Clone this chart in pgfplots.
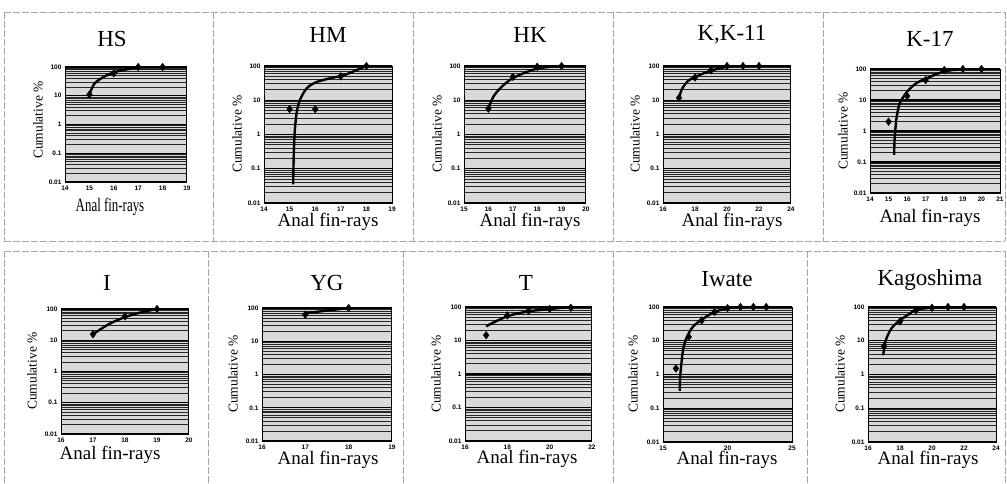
\documentclass[border=0pt]{standalone}
\usepackage{pgfplots}
\pgfplotsset{compat=1.18}
\usepackage{fontspec}
\setmainfont{Liberation Serif}
\setsansfont{Liberation Sans}

\newcommand\tickfont{\sffamily\bfseries\fontsize{6.5}{6.5}\selectfont}
\newcommand\ttl[3]{\node[font=\fontsize{23}{26}\selectfont] at (#1pt,-#2pt) {#3};}
\newcommand\xlab[2]{\node[font=\fontsize{19}{22}\selectfont] at (#1pt,-#2pt) {Anal fin-rays};}
\newcommand\ylab[2]{\node[rotate=90,font=\fontsize{13.5}{15}\selectfont] at (#1pt,-#2pt) {Cumulative \%};}

\tikzset{
  border/.style={gray!70, line width=0.8pt, dash pattern=on 7pt off 2pt},
  curveline/.style={black, line width=2.4pt, smooth},
  datapts/.style={black, mark=diamond*, mark size=3.8pt},
}
\pgfkeys{/pgf/number format/assume math mode=true}
\pgfplotsset{
  scale only axis,
  ytick={0.01,0.1,1,10,100}, yticklabels={0.01,0.1,1,10,100},
  minor ytick={0.02,0.03,0.04,0.05,0.06,0.07,0.08,0.09,
               0.2,0.3,0.4,0.5,0.6,0.7,0.8,0.9,
               2,3,4,5,6,7,8,9,20,30,40,50,60,70,80,90},
  ymajorgrids, yminorgrids,
  major grid style={black, line width=1.4pt},
  minor grid style={black!85, line width=0.9pt},
  axis background/.style={fill=gray!30},
  axis line style={black, line width=1pt},
  tick style={draw=none},
  tick label style={font=\tickfont},
  clip mode=individual,
}

\begin{document}
\begin{tikzpicture}
\useasboundingbox (0pt,0pt) rectangle (1007pt,-483pt);

% panel frames
\draw[border] (4pt,-12pt) -- (1005pt,-12pt);
\draw[border] (4pt,-241pt) -- (1005pt,-241pt);
\draw[border] (4pt,-251pt) -- (1005pt,-251pt);
\foreach \x in {4,213,413,613,823,1005} \draw[border] (\x pt,-12pt) -- (\x pt,-241pt);
\foreach \x in {4,208,403,613,807,1005} \draw[border] (\x pt,-251pt) -- (\x pt,-483pt);

% ---- row 1 ----
\begin{axis}[ymode=log, ymin=0.01, ymax=100, anchor=north west, at={(65pt,-67pt)}, width=122pt, height=115pt,
  xmin=14, xmax=19, xtick={14,15,16,17,18,19}]
\addplot[curveline] coordinates {(15,11) (15.2,26) (15.58,45) (16.05,67) (16.53,83) (17.1,100)};
\addplot[datapts, only marks] coordinates {(15,11) (16,60) (17,100) (18,100)};
\end{axis}
\ttl{112}{39}{HS}
\node at (110pt,-207pt) {\scalebox{0.68}[1]{\fontsize{19}{22}\selectfont Anal fin-rays}};
\ylab{38}{120}

\begin{axis}[ymode=log, ymin=0.01, ymax=100, anchor=north west, at={(264pt,-66pt)}, width=128pt, height=137pt,
  xmin=14, xmax=19, xtick={14,15,16,17,18,19}]
\addplot[curveline] coordinates {(15.14,0.035) (15.15,0.1) (15.17,0.4) (15.21,1.5) (15.28,4.5) (15.40,10) (15.66,22) (16.05,34) (16.7,46) (17.1,53) (17.6,75) (18,100)};
\addplot[datapts, only marks] coordinates {(15,5.5) (16,5.5) (17,50) (18,100)};
\end{axis}
\ttl{328}{35}{HM}
\xlab{328}{222}
\ylab{237}{134}

\begin{axis}[ymode=log, ymin=0.01, ymax=100, anchor=north west, at={(464pt,-66pt)}, width=122pt, height=137pt,
  xmin=15, xmax=20, xtick={15,16,17,18,19,20}]
\addplot[curveline] coordinates {(16,5.7) (16.2,12.6) (16.5,23) (16.9,40) (17.4,60) (18,84) (18.5,94) (19,100)};
\addplot[datapts, only marks] coordinates {(16,5.7) (17,48) (18,95) (19,100)};
\end{axis}
\ttl{530}{35}{HK}
\xlab{530}{222}
\ylab{437}{134}

\begin{axis}[ymode=log, ymin=0.01, ymax=100, anchor=north west, at={(663pt,-66pt)}, width=128pt, height=137pt,
  xmin=16, xmax=24, xtick={16,18,20,22,24}]
\addplot[curveline] coordinates {(17,11.7) (17.2,22) (17.6,38) (18.1,50) (18.95,72) (20,95) (21,100) (22,100)};
\addplot[datapts, only marks] coordinates {(17,11.7) (18,46) (19,75) (20,100) (21,100) (22,100)};
\end{axis}
\ttl{732}{35}{K,K-11}
\xlab{732}{222}
\ylab{635}{134}

\begin{axis}[ymode=log, ymin=0.01, ymax=100, anchor=north west, at={(870pt,-69pt)}, width=130pt, height=124pt,
  xmin=14, xmax=21, xtick={14,15,16,17,18,19,20,21}]
\addplot[curveline] coordinates {(15.3,0.17) (15.32,0.5) (15.37,1.2) (15.44,2.9) (15.6,7.8) (16,18.6) (16.5,35) (17.05,50) (17.95,82) (19,100) (20,100)};
\addplot[datapts, only marks] coordinates {(15,2) (16,13.4) (17,44) (18,93) (19,100) (20,100)};
\end{axis}
\ttl{930}{39}{K-17}
\xlab{930}{218}
\ylab{843}{131}

% ---- row 2 ----
\begin{axis}[ymode=log, ymin=0.01, ymax=100, anchor=north west, at={(61pt,-309pt)}, width=128pt, height=125pt,
  xmin=16, xmax=20, xtick={16,17,18,19,20}]
\addplot[curveline] coordinates {(17,15.6) (17.5,33) (18,55) (18.5,78) (19,100)};
\addplot[datapts, only marks] coordinates {(17,15.6) (18,58) (19,100)};
\end{axis}
\ttl{107}{283}{I}
\xlab{110}{455}
\ylab{32}{371}

\begin{axis}[ymode=log, ymin=0.01, ymax=100, anchor=north west, at={(262pt,-308pt)}, width=130pt, height=133pt,
  xmin=16, xmax=19, xtick={16,17,18,19}]
\addplot[curveline] coordinates {(17,70) (18,100)};
\addplot[datapts, only marks] coordinates {(17,63) (18,100)};
\end{axis}
\ttl{327}{283}{YG}
\xlab{328}{460}
\ylab{233}{374}

\begin{axis}[ymode=log, ymin=0.01, ymax=100, anchor=north west, at={(465pt,-307pt)}, width=127pt, height=134pt,
  xmin=16, xmax=22, xtick={16,18,20,22}]
\addplot[curveline] coordinates {(17,26.7) (18,53) (19,74) (20,87) (21,100)};
\addplot[datapts, only marks] coordinates {(17,14.4) (18,56) (19,76) (20,88) (21,95)};
\end{axis}
\ttl{526}{283}{T}
\xlab{527}{459}
\ylab{436}{374}

\begin{axis}[ymode=log, ymin=0.01, ymax=100, anchor=north west, at={(663pt,-307pt)}, width=129pt, height=135pt,
  xmin=15, xmax=25, xtick={15,20,25}]
\addplot[curveline] coordinates {(16.3,0.33) (16.32,0.7) (16.37,1.3) (16.55,5.2) (16.8,11.5) (17.3,25.5) (18.1,45) (19,71) (20,93) (21,100) (23,100)};
\addplot[datapts, only marks] coordinates {(16,1.5) (17,13) (18,40) (19,71) (20,93) (21,100) (22,100) (23,100)};
\end{axis}
\ttl{727}{279}{Iwate}
\xlab{727}{460}
\ylab{633}{374}

\begin{axis}[ymode=log, ymin=0.01, ymax=100, anchor=north west, at={(868pt,-307pt)}, width=128pt, height=135pt,
  xmin=16, xmax=24, xtick={16,18,20,22,24}]
\addplot[curveline] coordinates {(16.95,3.7) (17.1,10) (17.46,23) (17.98,40) (18.6,63) (19,83) (20,95) (22,100)};
\addplot[datapts, only marks] coordinates {(17,6.8) (18,37.5) (19,80) (20,95) (21,100) (22,100)};
\end{axis}
\ttl{930}{280}{Kagoshima}
\xlab{928}{460}
\ylab{840}{374}
\end{tikzpicture}
\end{document}
